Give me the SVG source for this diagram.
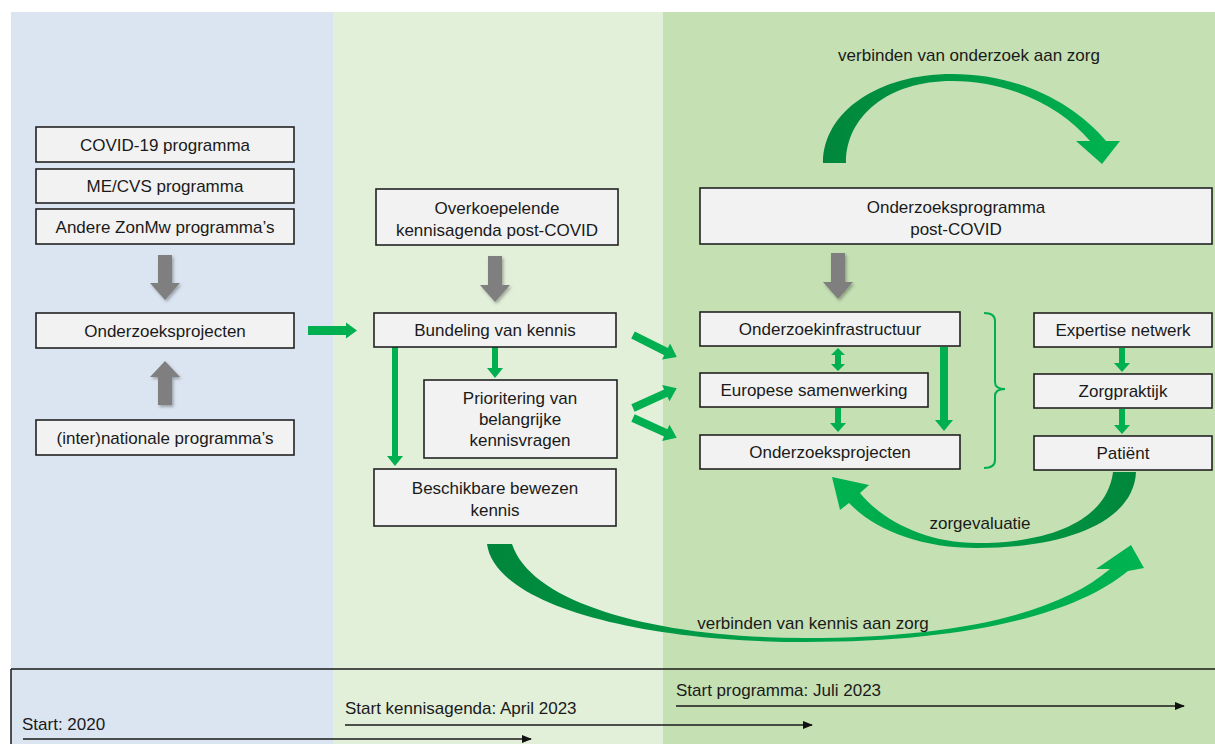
<svg xmlns="http://www.w3.org/2000/svg" width="1215" height="744" viewBox="0 0 1215 744">
<defs>
<style>
.box{fill:#f2f2f2;stroke:#222;stroke-width:1.6}
.t{font-family:"Liberation Sans",Arial,sans-serif;font-size:17px;fill:#1a1a1a;text-anchor:middle}
.tl{font-family:"Liberation Sans",Arial,sans-serif;font-size:17px;fill:#1a1a1a}
.g{fill:#00b050}
.gray{fill:#7f7f7f;filter:url(#sh)}
.tline{stroke:#1a1a1a;stroke-width:1.5;fill:none}
.br{stroke:#00b050;stroke-width:2;fill:none}
</style>
<filter id="sh" x="-50%" y="-50%" width="200%" height="200%"><feDropShadow dx="1.5" dy="2" stdDeviation="1.5" flood-color="#000" flood-opacity="0.3"/></filter>
<marker id="ah" markerWidth="10" markerHeight="10" refX="9" refY="5" orient="auto" markerUnits="userSpaceOnUse"><path d="M0,1 L10,5 L0,9 z" fill="#111"/></marker>
<linearGradient id="gTop" gradientUnits="userSpaceOnUse" x1="823" y1="0" x2="1120" y2="0"><stop offset="0" stop-color="#00863c"/><stop offset="1" stop-color="#00b450"/></linearGradient>
<linearGradient id="gBot" gradientUnits="userSpaceOnUse" x1="487" y1="0" x2="1144" y2="0"><stop offset="0" stop-color="#00863c"/><stop offset="0.45" stop-color="#00a24a"/><stop offset="1" stop-color="#00b450"/></linearGradient>
<linearGradient id="gEval" gradientUnits="userSpaceOnUse" x1="1136" y1="0" x2="832" y2="0"><stop offset="0" stop-color="#00863c"/><stop offset="1" stop-color="#00b450"/></linearGradient>
</defs>

<rect x="0" y="0" width="1215" height="744" fill="#ffffff"/>
<rect x="11" y="12" width="322" height="732" fill="#dbe5f1"/>
<rect x="333" y="12" width="330" height="732" fill="#e2efd9"/>
<rect x="663" y="12" width="552" height="732" fill="#c5e0b3"/>

<g id="timeline">
<path class="tline" d="M11,669 H1215 M11,669 V744"/>
<text class="tl" x="22" y="730">Start: 2020</text>
<line class="tline" x1="23" y1="739" x2="531" y2="739" marker-end="url(#ah)"/>
<text class="tl" x="345" y="714">Start kennisagenda: April 2023</text>
<line class="tline" x1="345" y1="725" x2="812" y2="725" marker-end="url(#ah)"/>
<text class="tl" x="676" y="696">Start programma: Juli 2023</text>
<line class="tline" x1="676" y1="706" x2="1184" y2="706" marker-end="url(#ah)"/>
</g>

<g id="connectors">
<polygon class="gray" points="158,255 172,255 172,283 180,283 165,300 150,283 158,283"/>
<polygon class="gray" points="165,361 180,377 172,377 172,405 158,405 158,377 150,377"/>
<polygon class="gray" points="488,256 502,256 502,285 510,285 495,302 480,285 488,285"/>
<polygon class="gray" points="831,253 845,253 845,282 853,282 838,299 823,282 831,282"/>
<polygon class="g" points="308,326 346,326 346,322.5 357,330.5 346,338.5 346,335 308,335"/>
<polygon class="g" points="392,347 398,347 398,456 403,456 395,466 387,456 392,456"/>
<polygon class="g" points="492,347 498,347 498,368 503,368 495,378 487,368 492,368"/>
<polygon class="g" transform="translate(633,335) rotate(26.6)" points="0,-4 37,-4 37,-9 49,0 37,9 37,4 0,4"/>
<polygon class="g" transform="translate(633,408) rotate(-24.4)" points="0,-4 36,-4 36,-9 48,0 36,9 36,4 0,4"/>
<polygon class="g" transform="translate(633,418) rotate(24.4)" points="0,-4 36,-4 36,-9 48,0 36,9 36,4 0,4"/>
<polygon class="g" points="838,348 845,355 841,355 841,364 845,364 838,371 831,364 835,364 835,355 831,355"/>
<polygon class="g" points="835,408 841,408 841,423 846,423 838,432 830,423 835,423"/>
<polygon class="g" points="940,347 948,347 948,420 953,420 944,431 935,420 940,420"/>
<polygon class="g" points="1119,348 1125,348 1125,363 1130,363 1122,372 1114,363 1119,363"/>
<polygon class="g" points="1119,409 1125,409 1125,425 1130,425 1122,434 1114,425 1119,425"/>
<path class="br" d="M984,313 Q995,313 995,321 L995,382 Q995,389 1005,389 Q995,389 995,396 L995,460 Q995,468 984,468"/>
<path fill="url(#gTop)" d="M823,163 C823,112 878,74 952,74 C1020,74 1075,104 1106,141 L1120,141 L1102,164 L1076,141 L1090,141 C1062,108 1012,81 952,81 C888,81 846,116 846,163 Z"/>
<path fill="url(#gBot)" d="M487,544 C495,605 640,642 805,642 C965,642 1075,615 1128,571 L1144,568 L1131,545 L1096,569 L1110,569 C1060,612 960,638 805,638 C660,638 532,605 512,544 Z"/>
<path fill="url(#gEval)" d="M1136,472 C1134,520 1070,548 977,548 C920,548 875,530 849,503 L840,510 L832,477 L869,485 L860,493 C882,520 925,543 977,543 C1060,543 1108,515 1113,472 Z"/>
<text class="t" x="969" y="61">verbinden van onderzoek aan zorg</text>
<text class="t" x="813" y="629">verbinden van kennis aan zorg</text>
<text class="t" x="980" y="529">zorgevaluatie</text>
</g>

<g id="n-covid"><rect class="box" x="36" y="127" width="258" height="35"/><text class="t" x="165" y="151">COVID-19 programma</text></g>
<g id="n-mecvs"><rect class="box" x="36" y="169" width="258" height="34"/><text class="t" x="165" y="192">ME/CVS programma</text></g>
<g id="n-andere"><rect class="box" x="36" y="209" width="258" height="35"/><text class="t" x="165" y="233">Andere ZonMw programma’s</text></g>
<g id="n-projecten-l"><rect class="box" x="36" y="313" width="258" height="35"/><text class="t" x="165" y="337">Onderzoeksprojecten</text></g>
<g id="n-internat"><rect class="box" x="36" y="420" width="258" height="35"/><text class="t" x="165" y="444">(inter)nationale programma’s</text></g>

<g id="n-overkoep"><rect class="box" x="376" y="189" width="242" height="56"/><text class="t" x="497" y="214">Overkoepelende</text><text class="t" x="497" y="236">kennisagenda post-COVID</text></g>
<g id="n-bundeling"><rect class="box" x="374" y="313" width="242" height="34"/><text class="t" x="495" y="336">Bundeling van kennis</text></g>
<g id="n-priorit"><rect class="box" x="424" y="380" width="193" height="78"/><text class="t" x="520" y="404">Prioritering van</text><text class="t" x="520" y="425">belangrijke</text><text class="t" x="520" y="446">kennisvragen</text></g>
<g id="n-beschik"><rect class="box" x="374" y="469" width="242" height="57"/><text class="t" x="495" y="494">Beschikbare bewezen</text><text class="t" x="495" y="516">kennis</text></g>

<g id="n-progr"><rect class="box" x="700" y="188" width="512" height="56"/><text class="t" x="956" y="213">Onderzoeksprogramma</text><text class="t" x="956" y="235">post-COVID</text></g>
<g id="n-infra"><rect class="box" x="700" y="312" width="260" height="34"/><text class="t" x="830" y="335">Onderzoekinfrastructuur</text></g>
<g id="n-europ"><rect class="box" x="700" y="373" width="228" height="34"/><text class="t" x="814" y="396">Europese samenwerking</text></g>
<g id="n-projecten-r"><rect class="box" x="700" y="435" width="260" height="34"/><text class="t" x="830" y="458">Onderzoeksprojecten</text></g>
<g id="n-expert"><rect class="box" x="1034" y="313" width="178" height="34"/><text class="t" x="1123" y="336">Expertise netwerk</text></g>
<g id="n-zorg"><rect class="box" x="1034" y="374" width="178" height="34"/><text class="t" x="1123" y="397">Zorgpraktijk</text></g>
<g id="n-patient"><rect class="box" x="1034" y="436" width="178" height="34"/><text class="t" x="1123" y="459">Patiënt</text></g>
</svg>
